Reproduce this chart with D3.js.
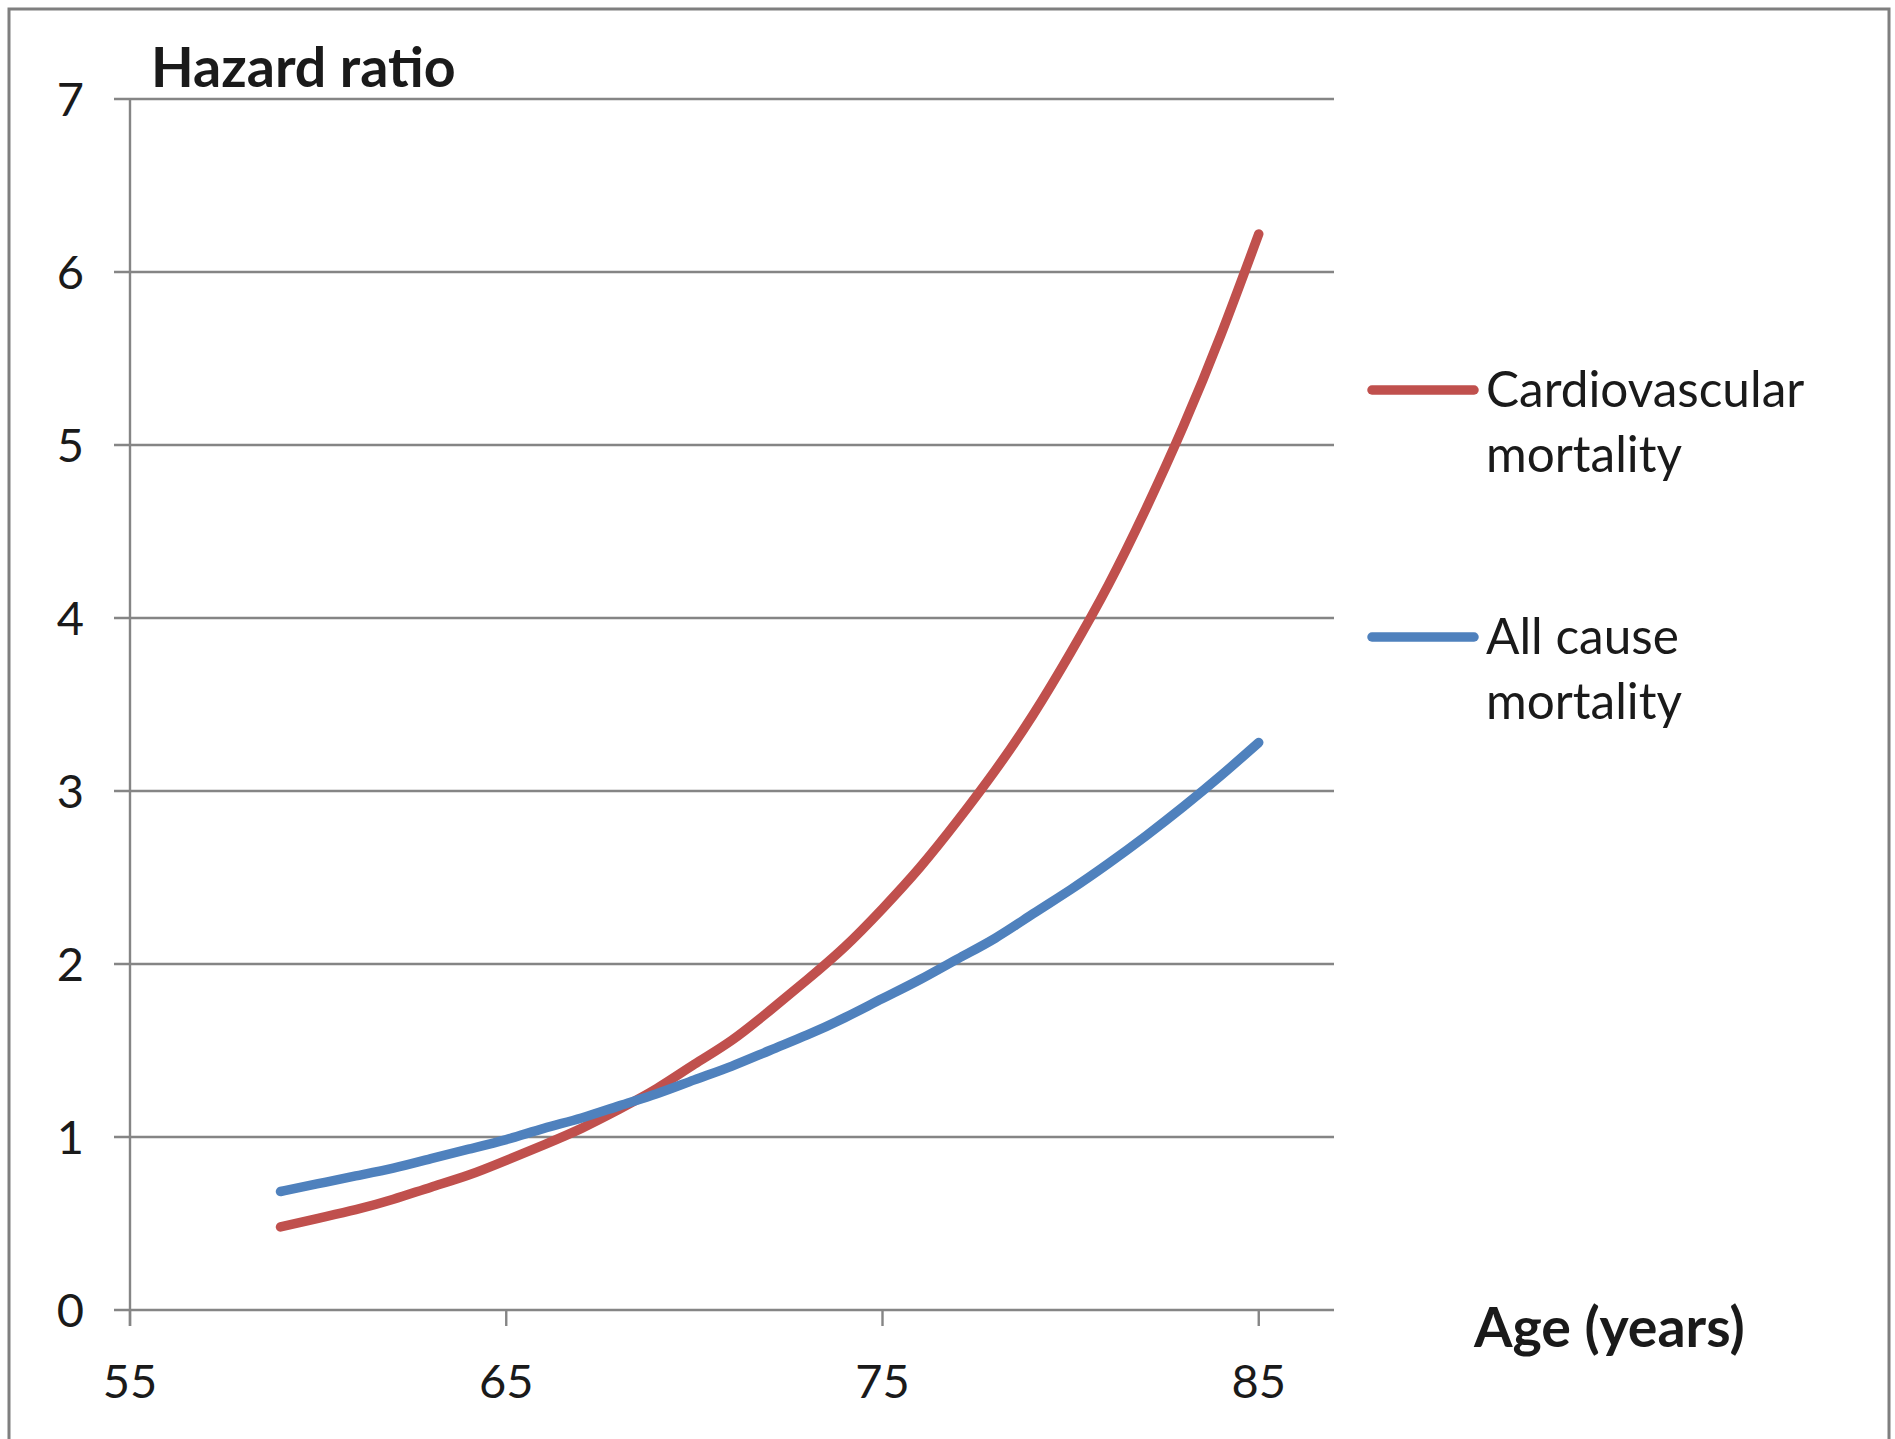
<!DOCTYPE html>
<html>
<head>
<meta charset="utf-8">
<script src="https://cdn.jsdelivr.net/npm/d3@7/dist/d3.min.js"></script>
<style>
  html, body { margin: 0; padding: 0; background: #fff; }
  svg { display: block; }
  text { font-family: Lato, "Open Sans", sans-serif; fill: #1a1a1a; }
</style>
</head>
<body>
<svg id="chart" width="1895" height="1439"></svg>
<script>
// ---- data ----
const ages = [59,60,61,62,63,64,65,66,67,68,69,70,71,72,73,74,75,76,77,78,79,80,81,82,83,84,85];
const cardiovascular = [0.48,0.53,0.58,0.64,0.71,0.78,0.865,0.955,1.05,1.16,1.28,1.42,1.56,1.73,1.91,2.10,2.32,2.56,2.83,3.12,3.44,3.80,4.19,4.63,5.11,5.64,6.22];
const allCause = [0.685,0.73,0.775,0.82,0.875,0.93,0.985,1.05,1.11,1.18,1.25,1.33,1.41,1.50,1.59,1.69,1.80,1.91,2.03,2.15,2.29,2.43,2.58,2.74,2.91,3.09,3.28];
const xTicks = [55,65,75,85];
const yTicks = [0,1,2,3,4,5,6,7];
const seriesNames = [["Cardiovascular","mortality"],["All cause","mortality"]];
const seriesColors = ["#C0504D","#4F81BD"];
const yTitle = "Hazard ratio";
const xTitle = "Age (years)";

// ---- layout ----
(function () {
const svg = d3.select("#chart");
const pLeft = 130, pRight = 1334, pTop = 99, pBottom = 1310;
const x = d3.scaleLinear().domain([55, 87]).range([pLeft, pRight]);
const y = d3.scaleLinear().domain([0, 7]).range([pBottom, pTop]);
const gridColor = "#858585";

// outer border
svg.append("rect").attr("x", 9).attr("y", 9).attr("width", 1880).attr("height", 1445)
  .attr("fill", "none").attr("stroke", "#7f7f7f").attr("stroke-width", 3);

// horizontal gridlines (with left tick stubs)
svg.append("g").selectAll("line").data(yTicks).join("line")
  .attr("x1", pLeft - 16).attr("x2", pRight)
  .attr("y1", d => y(d)).attr("y2", d => y(d))
  .attr("stroke", gridColor).attr("stroke-width", 2.4);

// y axis line
svg.append("line").attr("x1", pLeft).attr("x2", pLeft).attr("y1", pTop).attr("y2", pBottom + 16)
  .attr("stroke", gridColor).attr("stroke-width", 2.4);

// x axis ticks
svg.append("g").selectAll("line").data(xTicks).join("line")
  .attr("x1", d => x(d)).attr("x2", d => x(d))
  .attr("y1", pBottom).attr("y2", pBottom + 16)
  .attr("stroke", gridColor).attr("stroke-width", 2.4);

// y tick labels
svg.append("g").selectAll("text").data(yTicks).join("text")
  .attr("x", 84).attr("y", d => y(d) + 17)
  .attr("text-anchor", "end").attr("font-size", 47)
  .text(d => d);

// x tick labels
svg.append("g").selectAll("text").data(xTicks).join("text")
  .attr("x", d => x(d)).attr("y", 1398)
  .attr("text-anchor", "middle").attr("font-size", 47)
  .text(d => d);

// titles
svg.append("text").attr("x", 151).attr("y", 87).attr("font-size", 55.5).attr("font-weight", "bold").text(yTitle);
svg.append("text").attr("x", 1474).attr("y", 1347).attr("font-size", 55.5).attr("font-weight", "bold").text(xTitle);

// lines
const line = d3.line().x(d => x(d[0])).y(d => y(d[1])).curve(d3.curveNatural);
const allSeries = [cardiovascular, allCause];
svg.append("g").selectAll("path").data(allSeries).join("path")
  .attr("d", s => line(ages.map((a, i) => [a, s[i]])))
  .attr("fill", "none")
  .attr("stroke", (d, i) => seriesColors[i])
  .attr("stroke-width", 9.5).attr("stroke-linecap", "round").attr("stroke-linejoin", "round");

// legend
const legendY = [390, 637];
const lg = svg.append("g").selectAll("g").data(seriesNames).join("g");
lg.append("line")
  .attr("x1", 1372).attr("x2", 1474)
  .attr("y1", (d, i) => legendY[i]).attr("y2", (d, i) => legendY[i])
  .attr("stroke", (d, i) => seriesColors[i]).attr("stroke-width", 9.5).attr("stroke-linecap", "round");
lg.append("text")
  .attr("x", 1486).attr("y", (d, i) => legendY[i] + 17)
  .attr("font-size", 49.5)
  .selectAll("tspan").data(d => d).join("tspan")
  .attr("x", 1486).attr("dy", (d, j) => j === 0 ? 0 : 65)
  .text(d => d);
})();
</script>
</body>
</html>
